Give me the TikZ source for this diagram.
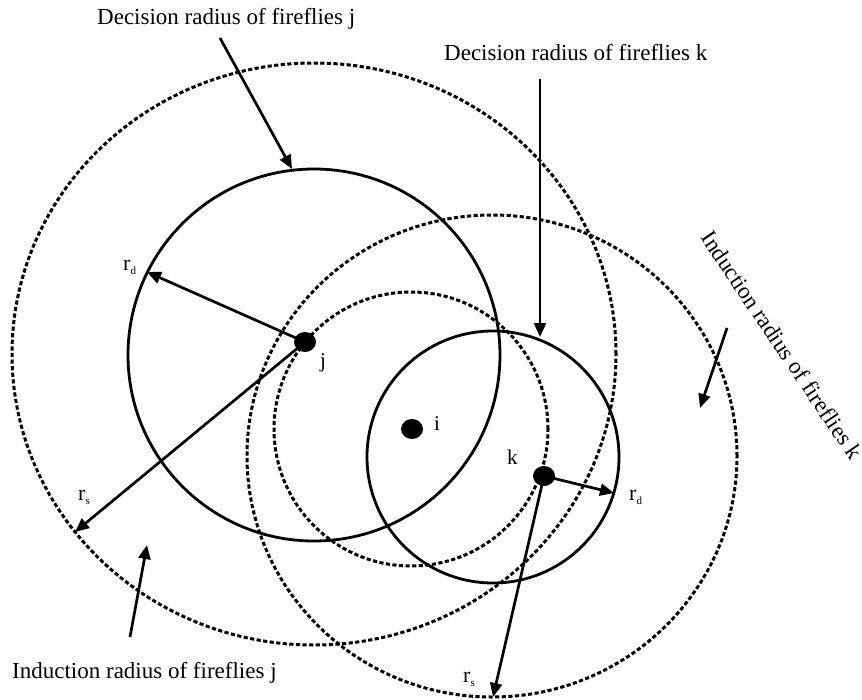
\documentclass[tikz,border=0pt]{standalone}
\usepackage{fontspec}
\setmainfont{Liberation Serif}
\usetikzlibrary{arrows.meta,shapes.geometric}
\newcommand\myrlab[1]{{\fontsize{22}{24}\selectfont r}\raisebox{-4pt}{\fontsize{11}{12}\selectfont #1}}
\begin{document}
\begin{tikzpicture}[x=1pt,y=-1pt,
  solidc/.style={line width=2.8pt},
  dashc/.style={line width=3pt, dash pattern=on 4.2pt off 2.4pt},
  arr/.style={line width=2.7pt, -{Triangle[length=14pt,width=12pt]}},
  dot/.style={ellipse, fill=black, minimum width=22pt, minimum height=20pt, inner sep=0pt},
  lbl/.style={font=\fontsize{23}{26}\selectfont, inner sep=0pt},
  ptlbl/.style={font=\fontsize{21}{24}\selectfont, inner sep=0pt},
  rlbl/.style={inner sep=0pt, anchor=base west},
]
\useasboundingbox (0,0) rectangle (862,699);
% circles
\draw[dashc] (314,354) ellipse [x radius=302pt, y radius=291pt];
\draw[solidc] (314,355) circle [radius=186pt];
\draw[dashc] (411,429) circle [radius=137pt];
\draw[dashc] (492,456) ellipse [x radius=245pt, y radius=241pt];
\draw[solidc] (493,457) circle [radius=126pt];
% fireflies
\node[dot] (jd) at (305,342) {};
\node[dot] (id) at (412,429) {};
\node[dot] (kd) at (544,476) {};
\node[ptlbl, anchor=base west] (jl) at (320,367) {j};
\node[ptlbl, anchor=base west] (il) at (434,430) {i};
\node[ptlbl, anchor=base west] (kl) at (507,464) {k};
% radius labels
\node[rlbl] (rdj) at (123,270) {\myrlab{d}};
\node[rlbl] (rsj) at (78,500) {\myrlab{s}};
\node[rlbl] (rdk) at (629,500) {\myrlab{d}};
\node[rlbl] (rsk) at (463,682) {\myrlab{s}};
% radius arrows
\coordinate (rdjT) at (147,272);
\coordinate (rsjT) at (75,532);
\coordinate (rdkT) at (614,493);
\coordinate (rskT) at (493,697);
\draw[arr] (jd.center) -- (rdjT);
\draw[arr] (jd.center) -- (rsjT);
\draw[arr] (kd.center) -- (rdkT);
\draw[arr] (kd.center) -- (rskT);
% text labels
\node[lbl, anchor=base west] (tdj) at (97,24) {Decision radius of fireflies j};
\node[lbl, anchor=base west] (tdk) at (444,60) {Decision radius of fireflies k};
\node[lbl, anchor=base west] (tij) at (12,678) {Induction radius of fireflies j};
\node[lbl, rotate=-56] (tik) at (782,345) {Induction radius of fireflies k};
% label arrows
\coordinate (dj0) at (220,38); \coordinate (dj1) at (292,169);
\coordinate (dk0) at (540,79); \coordinate (dk1) at (540,337);
\coordinate (ij0) at (130,637); \coordinate (ij1) at (147,545);
\coordinate (ik0) at (727,328); \coordinate (ik1) at (700,408);
\draw[arr] (dj0) -- (dj1);
\draw[arr] (dk0) -- (dk1);
\draw[arr] (ij0) -- (ij1);
\draw[arr] (ik0) -- (ik1);
\end{tikzpicture}
\end{document}
